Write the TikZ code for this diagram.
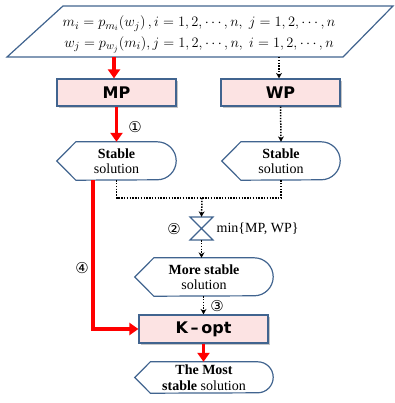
\documentclass[tikz,border=0pt]{standalone}
\usepackage{fontspec}
\setmainfont{Liberation Serif}
\setsansfont{DejaVu Sans}
\newfontfamily\symfont{DejaVu Sans}
\usetikzlibrary{calc,shadows,arrows.meta}
\definecolor{bordblue}{HTML}{41648F}
\definecolor{boxpink}{HTML}{FCE3E3}
\definecolor{redarr}{HTML}{FF0000}
\tikzset{
  x=1pt,y=1pt,
  procbox/.style={draw=bordblue,line width=1.2pt,fill=boxpink,
    drop shadow={shadow xshift=2pt,shadow yshift=-2pt,opacity=0.45},
    font=\sffamily\bfseries\fontsize{16}{18}\selectfont,inner sep=0pt},
  disptext/.style={draw=none,align=center,inner sep=0pt,
    font=\fontsize{14}{15.5}\selectfont},
  dispborder/.style={draw=bordblue,line width=1.2pt,fill=white},
  mathline/.style={anchor=base,inner sep=0pt,font=\fontsize{15.5}{18}\selectfont},
  redarrow/.style={draw=redarr,line width=3.4pt,-{Triangle[length=9pt,width=12pt]}},
  dotarrow/.style={draw=black,line width=1.5pt,dash pattern=on 1.4pt off 1.4pt,
    -{Stealth[length=5.5pt,width=6pt,line width=0pt]}},
  dotline/.style={draw=black,line width=1.5pt,dash pattern=on 1.4pt off 1.4pt},
  numlabel/.style={font=\symfont\fontsize{15}{15}\selectfont,inner sep=0pt},
}
\newcommand\dispshape[2]{% name, radius
  \path[dispborder] (#1.west) -- ($(#1.north west)+(#2,0)$) -- ($(#1.north east)+(-#2,0)$)
    arc[start angle=90,end angle=-90,radius=#2pt] -- ($(#1.south west)+(#2,0)$) -- cycle;}
\begin{document}
\begin{tikzpicture}
\useasboundingbox (0,0) rectangle (394,-403);
% input parallelogram
\path[draw=bordblue,line width=1.2pt,fill=white] (63,-6) -- (393,-6) -- (343,-57) -- (7,-57) -- cycle;
\node[mathline] (input1) at (199,-27)
  {$m_i = p_{m_i}\!\left(w_j\right), i = 1,2,\cdots,n,\; j = 1,2,\cdots,n$};
\node[mathline] (input2) at (199,-47.5)
  {$w_j = p_{w_j}(m_i), j = 1,2,\cdots,n,\; i = 1,2,\cdots,n$};
\coordinate (inL) at (114,-57);
\coordinate (inR) at (279,-57);
% process boxes
\node[procbox,minimum width=119pt,minimum height=27pt] (MP) at (116.5,-92.5) {MP};
\node[procbox,minimum width=119pt,minimum height=27pt] (WP) at (280.5,-92.5) {WP};
% stable solutions
\node[disptext,minimum width=119pt,minimum height=38pt] (S1) at (116.5,-161) {};
\dispshape{S1}{19}
\node[disptext] at (S1) {\textbf{Stable}\\solution};
\node[disptext,minimum width=118pt,minimum height=38pt] (S2) at (281,-161) {};
\dispshape{S2}{19}
\node[disptext] at (S2) {\textbf{Stable}\\solution};
% collate
\coordinate (C) at (201.5,-228.5);
\path[draw=bordblue,line width=1.2pt,fill=white] (190,-217) -- (213,-217) -- (190,-240) -- (213,-240) -- cycle;
\node[inner sep=0pt,minimum width=23pt,minimum height=23pt] (coll) at (C) {};
\node[anchor=west,inner sep=0pt,font=\fontsize{14}{15}\selectfont] (minlab) at (216.5,-229) {min\{MP, WP\}};
% more stable
\node[disptext,minimum width=138pt,minimum height=38pt] (MS) at (204,-277) {};
\dispshape{MS}{19}
\node[disptext] at (MS) {\textbf{More stable}\\solution};
% K-opt
\node[procbox,minimum width=129pt,minimum height=28pt] (K) at (203.5,-329) {K\,\textendash\,opt};
% most stable
\node[disptext,minimum width=138pt,minimum height=31pt] (TM) at (204,-377.5) {};
\dispshape{TM}{15.5}
\node[disptext] at (TM) {\textbf{The Most}\\\textbf{stable} solution};
% connectors
\draw[redarrow] (inL) -- (inL |- MP.north);
\draw[dotarrow] (inR) -- (inR |- WP.north);
\draw[redarrow] (MP.south) -- (S1.north);
\draw[dotarrow] (WP.south) -- (S2.north);
\coordinate (jn) at (202,-198);
\draw[dotline] (S1.south) |- (jn) -| (S2.south);
\draw[dotarrow] (jn) -- (coll.north);
\draw[dotarrow] (coll.south) -- (coll.south |- MS.north);
\draw[dotarrow] (MS.south -| K.north) -- (K.north);
\draw[redarrow] (K.south) -- (K.south |- TM.north);
\coordinate (r4) at (93,-180);
\draw[redarrow] (r4) |- (K.west);
% labels
\node[numlabel] (n1) at (135,-127) {①};
\node[numlabel] (n2) at (174,-229) {②};
\node[numlabel] (n3) at (217,-306) {③};
\node[numlabel] (n4) at (82,-268) {④};
\end{tikzpicture}
\end{document}
